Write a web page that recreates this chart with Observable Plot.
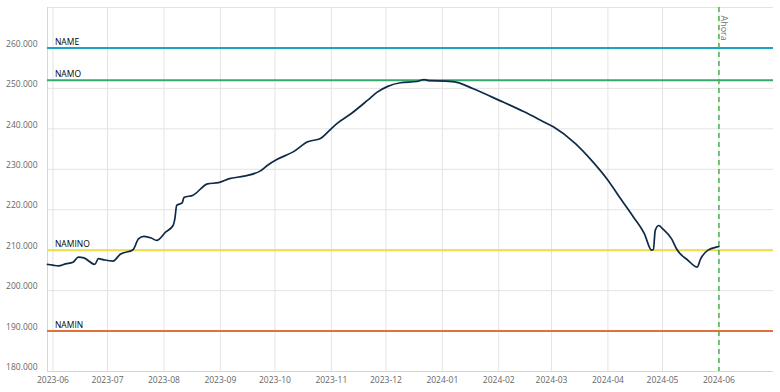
<!DOCTYPE html>
<html><head><meta charset="utf-8">
<script src="https://cdn.jsdelivr.net/npm/d3@7"></script>
<script src="https://cdn.jsdelivr.net/npm/@observablehq/plot@0.6"></script>
<style>body{margin:0;background:#fff}</style>
</head><body><div id="chart"></div>
<script>
const dates = ["2023-05-29","2023-06-01","2023-06-04","2023-06-08","2023-06-12","2023-06-15","2023-06-18","2023-06-24","2023-06-26","2023-06-29","2023-07-04","2023-07-08","2023-07-15","2023-07-18","2023-07-21","2023-07-25","2023-07-28","2023-08-02","2023-08-06","2023-08-07","2023-08-08","2023-08-11","2023-08-12","2023-08-17","2023-08-25","2023-08-31","2023-09-06","2023-09-14","2023-09-23","2023-09-27","2023-10-02","2023-10-11","2023-10-19","2023-10-26","2023-10-30","2023-11-04","2023-11-12","2023-11-21","2023-11-26","2023-12-02","2023-12-09","2023-12-18","2023-12-22","2023-12-25","2024-01-02","2024-01-09","2024-01-18","2024-02-01","2024-02-15","2024-02-25","2024-03-02","2024-03-14","2024-03-23","2024-04-01","2024-04-08","2024-04-15","2024-04-21","2024-04-25","2024-04-26","2024-04-27","2024-04-29","2024-05-01","2024-05-06","2024-05-09","2024-05-15","2024-05-20","2024-05-22","2024-05-26","2024-05-31","2024-06-01"];
const levels = [206.5,206.3,206.1,206.6,207.0,208.3,208.1,206.5,207.9,207.6,207.3,209.0,210.1,212.8,213.4,213.0,212.4,214.5,216.1,217.8,221.1,221.7,223.0,223.6,226.4,226.7,227.7,228.3,229.6,231.0,232.4,234.3,236.8,237.6,239.2,241.3,243.8,247.1,249.0,250.5,251.4,251.7,252.2,251.9,251.8,251.5,249.9,247.1,244.2,241.9,240.5,236.4,232.2,227.3,222.7,218.2,214.1,210.0,210.2,214.9,216.1,215.3,212.8,210.1,207.5,205.8,207.9,210.0,210.8,210.9];
const refNames = ["NAME","NAMO","NAMINO","NAMIN"];
const refValues = [260,252,210,190];
const refColors = ["#1ba2c4","#35a86b","#eedb4c","#e0703c"];
const xTicks = ["2023-06","2023-07","2023-08","2023-09","2023-10","2023-11","2023-12","2024-01","2024-02","2024-03","2024-04","2024-05","2024-06"];
const yTicks = [180,190,200,210,220,230,240,250,260];
const xDomain = ["2023-05-29","2024-07-01"];
const yDomain = [180,270];
const nowDate = "2024-06-01";
const nowLabel = "Ahora";

const parse = d3.utcParse("%Y-%m-%d");
const parseM = d3.utcParse("%Y-%m");
const series = dates.map((d,i)=>({date: parse(d), value: levels[i]}));
const refs = refNames.map((n,i)=>({name:n, value:refValues[i], color:refColors[i]}));
const xt = xTicks.map(parseM);
const now = parse(nowDate);
const xd = xDomain.map(parse);

const chart = Plot.plot({
  width: 780, height: 392,
  marginLeft: 47, marginRight: 7, marginTop: 7, marginBottom: 21,
  style: {fontFamily: "'Open Sans', sans-serif", fontSize: "8.5px", background: "#fff"},
  x: {type: "utc", domain: xd},
  y: {domain: yDomain},
  marks: [
    Plot.gridX(xt, {stroke: "#e3e3e3", strokeOpacity: 1}),
    Plot.gridY(yTicks, {stroke: "#e3e3e3", strokeOpacity: 1}),
    Plot.ruleY([yDomain[1]], {stroke: "#e3e3e3"}),
    Plot.ruleY([yDomain[0]], {stroke: "#d6d6d6"}),
    Plot.ruleX([xd[0]], {stroke: "#d6d6d6"}),
    Plot.axisX(xt, {tickSize: 0, tickPadding: 5, tickFormat: d3.utcFormat("%Y-%m"), fill: "#666", label: null}),
    Plot.axisY(yTicks, {tickSize: 0, tickPadding: 10, dy: -4, tickFormat: d => d.toFixed(3), fill: "#666", label: null}),
    Plot.ruleY(refs, {y: "value", stroke: "color", strokeWidth: 2}),
    Plot.text(refs, {x: () => xt[0], y: "value", text: "name", textAnchor: "start", dx: 2, dy: -6, fill: "#000", fontSize: 8.5}),
    Plot.line(series, {x: "date", y: "value", stroke: "#0e2a47", strokeWidth: 1.7, curve: "monotone-x"}),
    Plot.ruleX([now], {stroke: "#4caf50", strokeWidth: 1.5, strokeDasharray: "5,4"}),
    Plot.text([nowLabel], {x: () => now, y: () => yDomain[1], text: d => d, rotate: 90, textAnchor: "start", dx: 4.5, dy: 8, fill: "#777", fontSize: 9})
  ]
});
document.getElementById("chart").appendChild(chart);
</script>
</body></html>
